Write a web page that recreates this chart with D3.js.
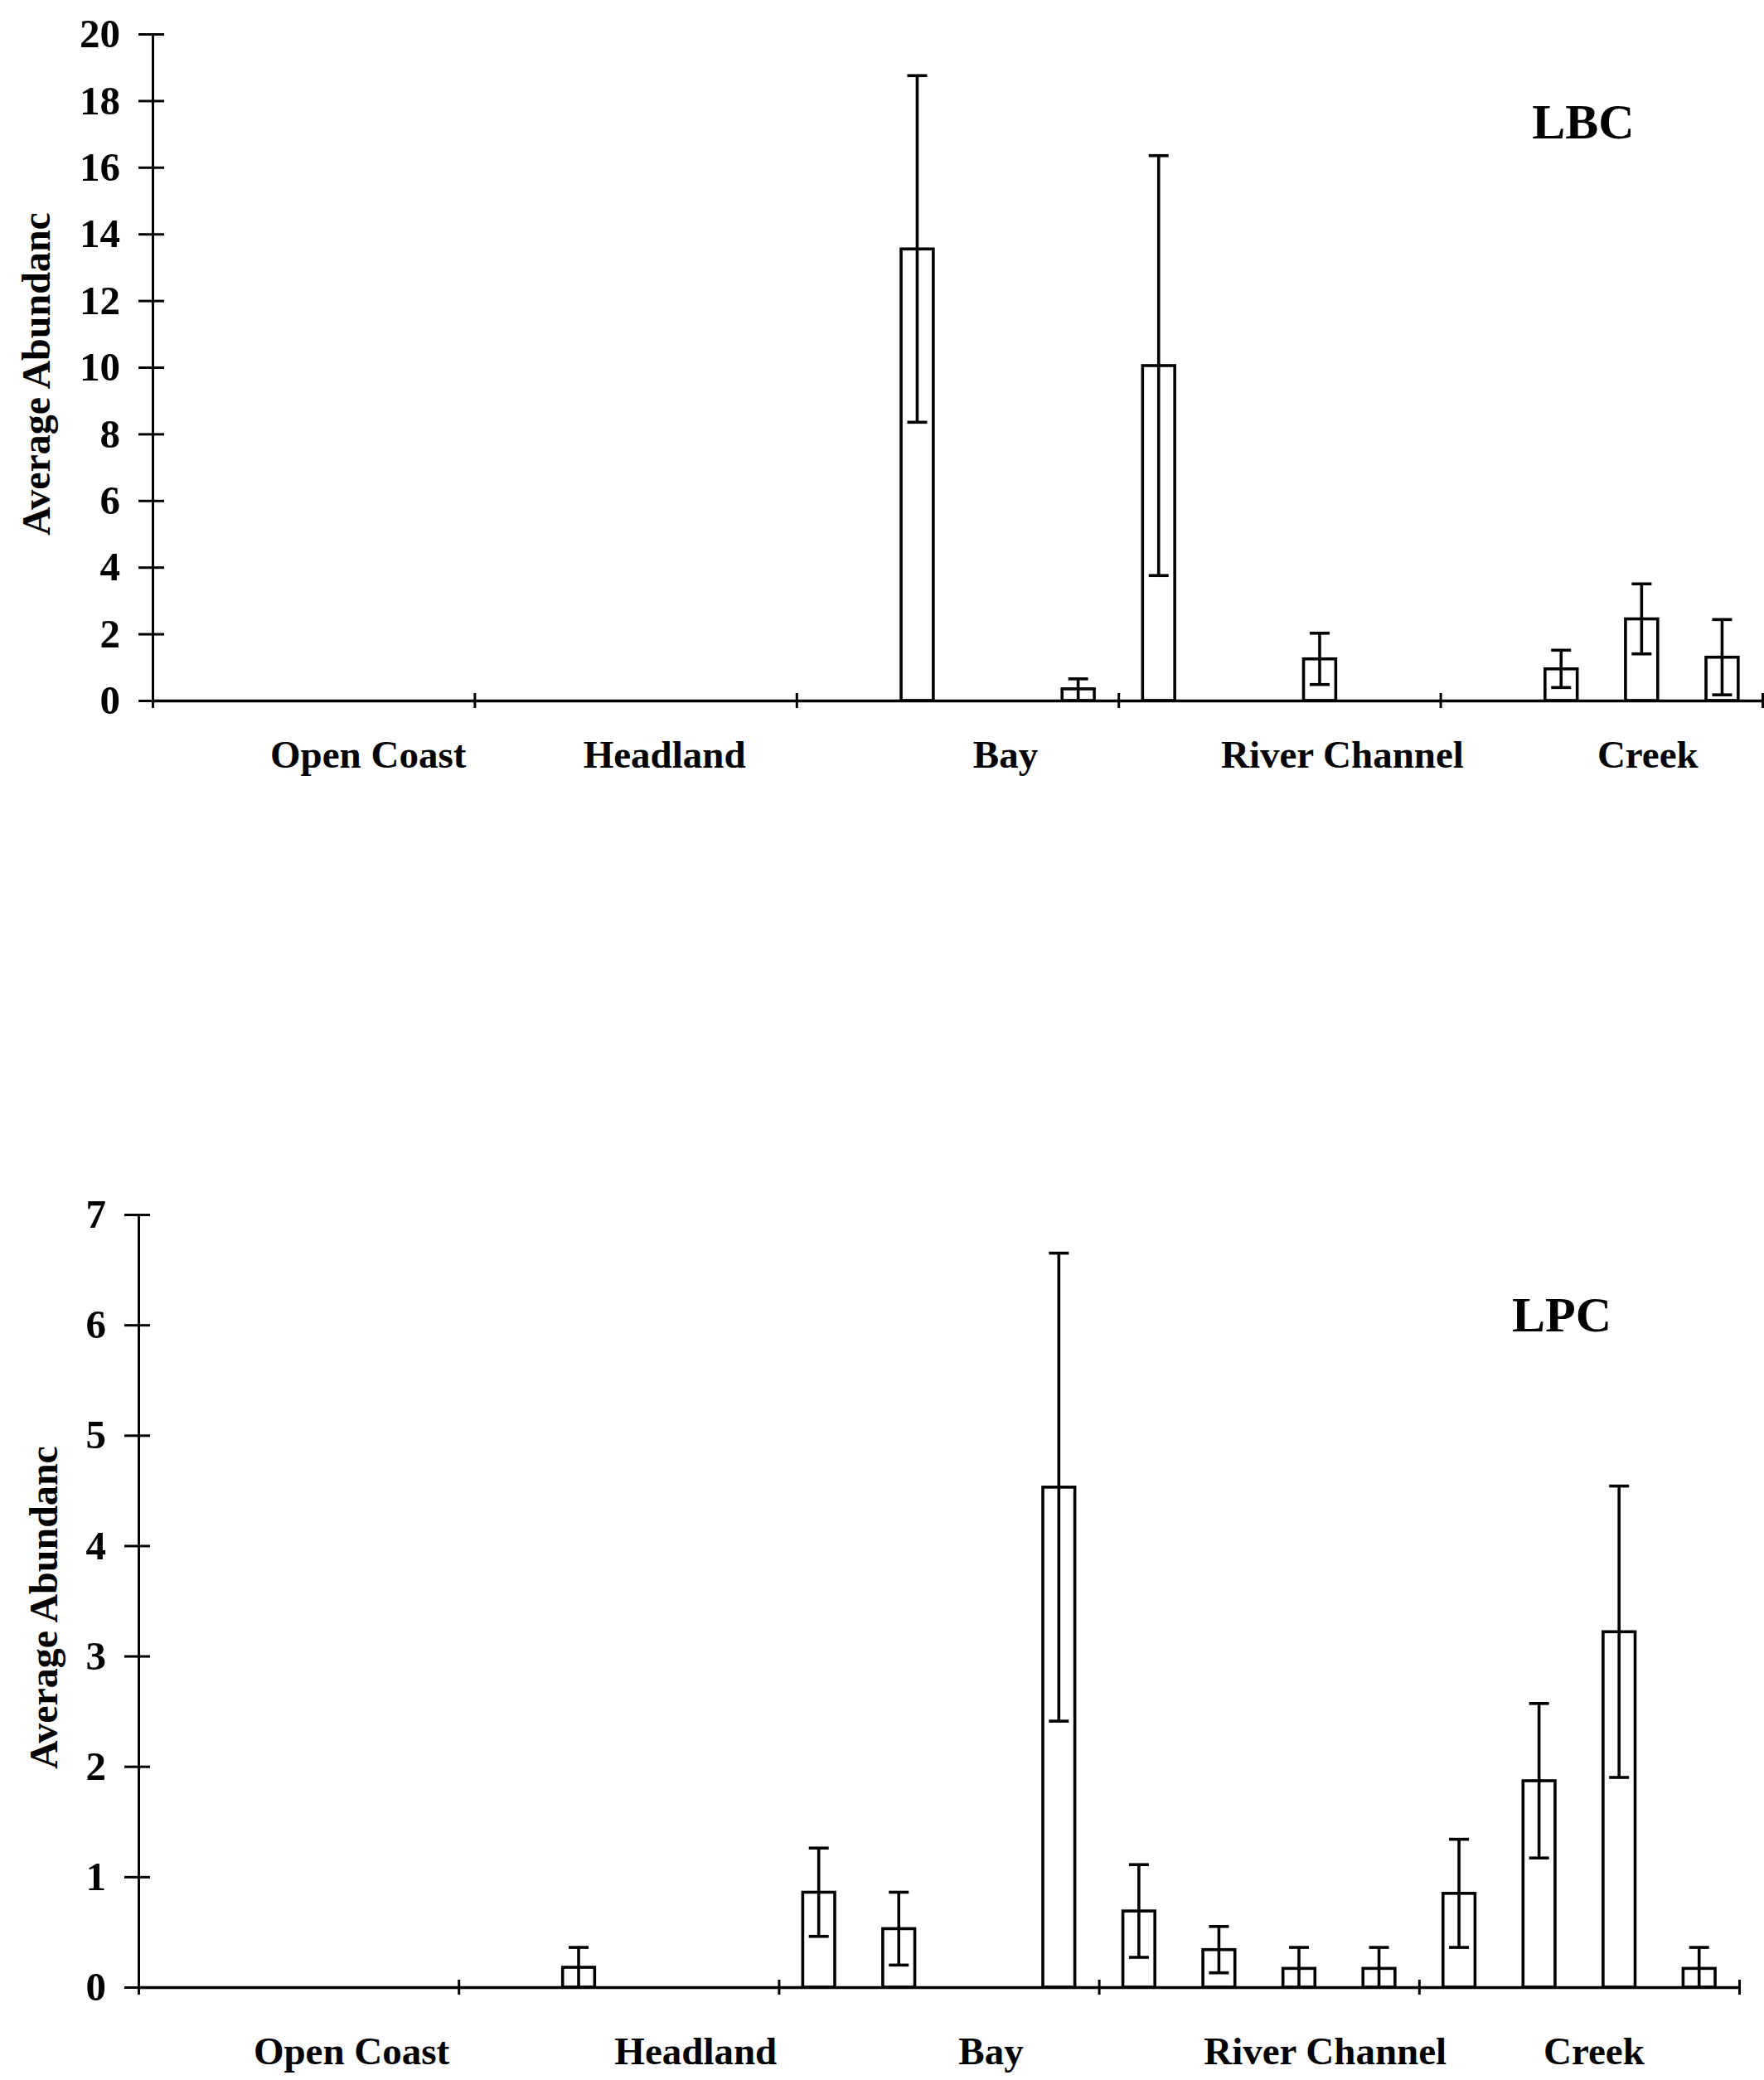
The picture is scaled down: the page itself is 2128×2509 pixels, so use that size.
<!DOCTYPE html>
<html>
<head>
<meta charset="utf-8">
<script src="https://cdn.jsdelivr.net/npm/d3@7"></script>
<style>
  html, body { margin: 0; padding: 0; background: #fff; }
  svg { display: block; }
  text { font-family: "Liberation Serif", "Times New Roman", serif; font-weight: bold; fill: #000; }
</style>
</head>
<body>
<svg id="chart" width="2128" height="2509"></svg>
<script>
// Habitat groups along the x axis; each habitat holds four sampling sites.
const habitats = ["Open Coast", "Headland", "Bay", "River Channel", "Creek"];
const sitesPerHabitat = 4;

// LBC: mean abundance per site and its error (0 = none recorded)
const lbcMean = [0, 0, 0, 0,   0, 0, 0, 0,   0, 13.55, 0, 0.35,   10.05, 0, 1.25, 0,   0, 0.95, 2.45, 1.3];
const lbcErr  = [0, 0, 0, 0,   0, 0, 0, 0,   0, 5.2,   0, 0.3,    6.3,   0, 0.77, 0,   0, 0.56, 1.05, 1.13];
const lbcTicks = [0, 2, 4, 6, 8, 10, 12, 14, 16, 18, 20];

// LPC: mean abundance per site and its error
const lpcMean = [0, 0, 0, 0,   0, 0.18, 0, 0,   0.86, 0.53, 0, 4.53,   0.69, 0.34, 0.17, 0.17,   0.85, 1.87, 3.22, 0.17];
const lpcErr  = [0, 0, 0, 0,   0, 0.18, 0, 0,   0.4,  0.33, 0, 2.12,   0.42, 0.21, 0.19, 0.19,   0.49, 0.7,  1.32, 0.19];
const lpcTicks = [0, 1, 2, 3, 4, 5, 6, 7];

const yTitle = "Average Abundanc";

const svg = d3.select("#chart");

function drawPanel(p) {
  const g = svg.append("g");
  const nSites = habitats.length * sitesPerHabitat;

  const x = d3.scaleBand()
    .domain(d3.range(nSites))
    .range([p.left, p.right])
    .paddingInner(0.6)
    .paddingOuter(0.3);

  const xHab = d3.scaleLinear().domain([0, habitats.length]).range([p.left, p.right]);

  const y = d3.scaleLinear()
    .domain([0, d3.max(p.ticks)])
    .range([p.base, p.top]);

  const rows = p.mean.map((m, i) => ({ i, m, e: p.err[i] })).filter(d => d.m > 0);

  // bars
  g.selectAll("rect.bar").data(rows).join("rect")
    .attr("class", "bar")
    .attr("x", d => x(d.i))
    .attr("width", x.bandwidth())
    .attr("y", d => y(d.m))
    .attr("height", d => y(0) - y(d.m))
    .attr("fill", "#fff")
    .attr("stroke", "#000")
    .attr("stroke-width", 3.6);

  // error bars
  const cap = 12;
  const eb = g.selectAll("g.err").data(rows).join("g").attr("class", "err")
    .attr("stroke", "#000").attr("stroke-width", 3.6).attr("fill", "none");
  eb.append("line")
    .attr("x1", d => x(d.i) + x.bandwidth() / 2)
    .attr("x2", d => x(d.i) + x.bandwidth() / 2)
    .attr("y1", d => y(d.m + d.e))
    .attr("y2", d => y(Math.max(0, d.m - d.e)));
  eb.append("line")
    .attr("x1", d => x(d.i) + x.bandwidth() / 2 - cap)
    .attr("x2", d => x(d.i) + x.bandwidth() / 2 + cap)
    .attr("y1", d => y(d.m + d.e))
    .attr("y2", d => y(d.m + d.e));
  eb.filter(d => d.m - d.e > 0.05).append("line")
    .attr("x1", d => x(d.i) + x.bandwidth() / 2 - cap)
    .attr("x2", d => x(d.i) + x.bandwidth() / 2 + cap)
    .attr("y1", d => y(d.m - d.e))
    .attr("y2", d => y(d.m - d.e));

  // y axis with ticks crossing the spine
  const yAxis = g.append("g")
    .attr("transform", `translate(${p.left},0)`)
    .call(d3.axisLeft(y).tickValues(p.ticks).tickFormat(d3.format("d")).tickSize(0).tickPadding(39));
  yAxis.select(".domain").attr("stroke", "#000").attr("stroke-width", 3);
  yAxis.selectAll(".tick line").attr("x1", -17).attr("x2", 14).attr("stroke", "#000").attr("stroke-width", 3);
  yAxis.selectAll(".tick text")
    .style("font-family", "'Liberation Serif', serif")
    .style("font-weight", "bold")
    .style("font-size", "49px");

  // x axis: habitat boundaries marked with short crossing ticks
  const xAxis = g.append("g")
    .attr("transform", `translate(0,${p.base})`)
    .call(d3.axisBottom(xHab).tickValues(d3.range(habitats.length + 1)).tickFormat("").tickSize(0));
  xAxis.select(".domain").attr("stroke", "#000").attr("stroke-width", 3.5);
  xAxis.selectAll(".tick line").attr("y1", -9).attr("y2", 9).attr("stroke", "#000").attr("stroke-width", 3);

  // habitat labels
  g.selectAll("text.hab").data(habitats).join("text")
    .attr("class", "hab")
    .attr("x", (d, i) => xHab(i + 0.5) + p.labelNudge[i])
    .attr("y", p.labelY)
    .attr("text-anchor", "middle")
    .style("font-size", "47px")
    .text(d => d);

  // y axis title
  g.append("text")
    .attr("transform", `translate(${p.titleX},${(p.top + p.base) / 2 + 8}) rotate(-90)`)
    .attr("text-anchor", "middle")
    .style("font-size", "48px")
    .text(yTitle);

  // panel name
  g.append("text")
    .attr("x", p.nameX)
    .attr("y", p.nameY)
    .attr("text-anchor", "middle")
    .style("font-size", "60px")
    .text(p.name);
}

drawPanel({
  name: "LBC", mean: lbcMean, err: lbcErr, ticks: lbcTicks,
  left: 184, right: 2126, top: 41, base: 845,
  labelY: 926, labelNudge: [66, 35, 58, 76, 56],
  titleX: 60, nameX: 1910, nameY: 167
});

drawPanel({
  name: "LPC", mean: lpcMean, err: lpcErr, ticks: lpcTicks,
  left: 167, right: 2098, top: 1465, base: 2397,
  labelY: 2490, labelNudge: [64, 93, 63, 80, 18],
  titleX: 69, nameX: 1884, nameY: 1606
});
</script>
</body>
</html>
